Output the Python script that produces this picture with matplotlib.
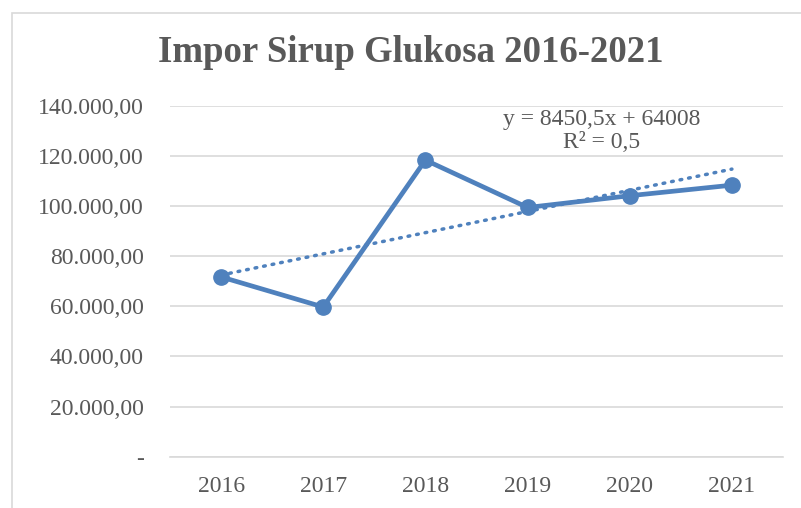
import matplotlib
matplotlib.use("Agg")
import matplotlib.pyplot as plt
import numpy as np
from matplotlib.patches import Rectangle
from matplotlib.ticker import FuncFormatter

years = ["2016", "2017", "2018", "2019", "2020", "2021"]
imports = [71700, 59700, 118300, 99400, 104100, 108300]
trend_slope = 8450.5
trend_intercept = 64008
trend_label = "y = 8450,5x + 64008\nR² = 0,5"
title = "Impor Sirup Glukosa 2016-2021"

blue = "#4F81BD"
gray = "#595959"
grid = "#D9D9D9"

plt.rcParams["font.family"] = ["Liberation Serif", "DejaVu Serif"]

fig = plt.figure(figsize=(8.01, 5.08), dpi=100)
fig.patches.append(Rectangle((12 / 801, -0.1), 1.2, (508 - 13) / 508 + 0.1,
                             transform=fig.transFigure, fill=False,
                             edgecolor=grid, linewidth=1.2))

ax = fig.add_axes([170 / 801, 1 - 456.7 / 508, (783 - 170) / 801, (456.7 - 105.7) / 508])
x = np.arange(len(years))
ax.plot(x, imports, color=blue, linewidth=3.4, marker="o", markersize=11,
        solid_capstyle="round", solid_joinstyle="round", zorder=3)
xt = np.array([0, len(years) - 1])
ax.plot(xt, trend_slope * (xt + 1) + trend_intercept, color=blue, linewidth=2.5,
        linestyle=(0, (0.5, 2.0)), dash_capstyle="round", zorder=2)

ax.set_xlim(-0.5, len(years) - 0.5)
ax.set_ylim(0, 140000)
ax.set_yticks(np.arange(0, 140001, 20000))
def fmt(v, pos):
    if v == 0:
        return "-"
    return f"{int(v):,}".replace(",", ".") + ",00"
ax.yaxis.set_major_formatter(FuncFormatter(fmt))
ax.set_xticks(x)
ax.set_xticklabels(years)
ax.grid(axis="y", color=grid, linewidth=1.2)
ax.set_axisbelow(True)
for s in ["top", "right", "left"]:
    ax.spines[s].set_visible(False)
ax.spines["bottom"].set_color(grid)
ax.spines["bottom"].set_linewidth(1.2)
ax.tick_params(axis="both", length=0, colors=gray, labelsize=17)
ax.tick_params(axis="y", pad=19)
ax.tick_params(axis="x", pad=14)

fig.text(411 / 801, 1 - 52 / 508, title, ha="center", va="center",
         fontsize=26.5, fontweight="bold", color=gray)
fig.text(602 / 801, 1 - 131 / 508, trend_label, ha="center", va="center",
         fontsize=17, color=gray, linespacing=1.1)

fig.savefig("out.png", dpi=100)
